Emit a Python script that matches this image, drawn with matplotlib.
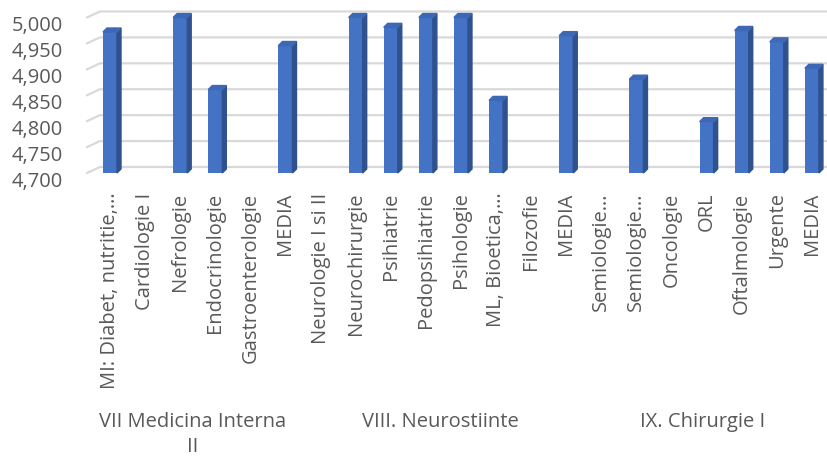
import numpy as np
import matplotlib
matplotlib.use("Agg")
import matplotlib.pyplot as plt
from matplotlib.patches import Polygon
import matplotlib.transforms as mtransforms

# data (nan = no visible bar)
categories = ["MI: Diabet, nutritie,…", "Cardiologie I", "Nefrologie", "Endocrinologie",
              "Gastroenterologie", "MEDIA", "Neurologie I si II",
              "Neurochirurgie", "Psihiatrie", "Pedopsihiatrie", "Psihologie",
              "ML, Bioetica,…", "Filozofie", "MEDIA",
              "Semiologie…", "Semiologie…", "Oncologie", "ORL", "Oftalmologie",
              "Urgente", "MEDIA"]
values = [4.972, np.nan, 5.000, 4.861, np.nan, 4.946, np.nan,
          5.000, 4.981, 5.000, 5.000, 4.840, np.nan, 4.965,
          np.nan, 4.881, np.nan, 4.799, 4.975, 4.953, 4.902]
groups = ["VII Medicina Interna\nII", "VIII. Neurostiinte", "IX. Chirurgie I"]
yticks = [4.700, 4.750, 4.800, 4.850, 4.900, 4.950, 5.000]

plt.rcParams['font.family'] = ['Open Sans', 'DejaVu Sans']
txt = '#595959'

fig = plt.figure(figsize=(8.27, 4.58), dpi=100)
ax = fig.add_axes([0.1052, 0.6223, 0.8948, 0.3395])
ax.set_xlim(-0.655, 20.43)
ax.set_ylim(4.700, 5.000)

x = np.arange(len(categories))
vals = np.array(values)
w = 0.4
dx, dy = 0.114, 0.0077        # bar depth
wx, wy = 0.37, 0.0116         # back wall offset

# back wall gridlines
for v in yticks:
    ax.plot([-0.655, -0.655 + wx, 20.43], [v, v + wy, v + wy], color='#d9d9d9',
            lw=1.6, clip_on=False, zorder=0)

ax.bar(x, vals - 4.700, bottom=4.700, width=w, color='#4472c4', zorder=3)
for xi, v in zip(x, vals):
    if np.isnan(v):
        continue
    r = xi + w / 2
    l = xi - w / 2
    side = Polygon([(r, 4.700), (r + dx, 4.700 + dy), (r + dx, v + dy), (r, v)],
                   closed=True, color='#2f528f', zorder=3, clip_on=False)
    top = Polygon([(l, v), (l + dx, v + dy), (r + dx, v + dy), (r, v)],
                  closed=True, color='#3d68b5', zorder=3, clip_on=False)
    ax.add_patch(side)
    ax.add_patch(top)

for s in ax.spines.values():
    s.set_visible(False)
ax.set_yticks([])
ax.set_xticks(x)
ax.set_xticklabels(categories, rotation=90, fontsize=14.5, color=txt)
ax.tick_params(axis='x', length=0, pad=14)

trans = mtransforms.blended_transform_factory(ax.transAxes, ax.transData)
for v in yticks:
    ax.text(-0.0324, v - 0.0165, f"{v:.3f}".replace('.', ','), transform=trans,
            ha='right', va='center', fontsize=14.5, color=txt)

gx = [0.2334, 0.532, 0.850]
for g, xx in zip(groups, gx):
    fig.text(xx, 1 - 412 / 458, g, ha='center', va='top', fontsize=14.5,
             color=txt, linespacing=1.3)

fig.savefig('out.png', dpi=100)
